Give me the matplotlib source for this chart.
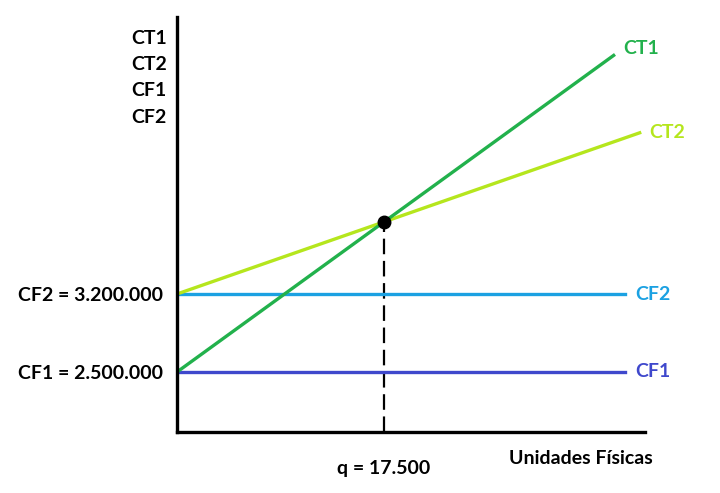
import numpy as np
import matplotlib.pyplot as plt
from matplotlib import transforms

plt.rcParams['font.family'] = ['Lato', 'DejaVu Sans']
plt.rcParams['font.weight'] = 'bold'

# costs
cf1 = 2500000
cf2 = 3200000
cv1 = 77      # variable cost per unit, CT1
cv2 = 37      # variable cost per unit, CT2
q_eq = 17500
x_end_ct1 = 36900
x_end_ct2 = 39100
x_end_cf = 37900
series_names = ['CT1', 'CT2', 'CF1', 'CF2']
colors = {'CT1': '#22b14c', 'CT2': '#b5e61d', 'CF1': '#3f48cc', 'CF2': '#1ba1e2'}
fs = 14

fig = plt.figure(figsize=(7.2, 4.93), dpi=100)
ax = fig.add_axes([177 / 720, 61 / 493, 468 / 720, 415 / 493])
ax.set_xlim(0, 39550)
ax.set_ylim(1961500, 5686000)

# fixed costs
ax.plot([0, x_end_cf], [cf2, cf2], color=colors['CF2'], lw=2.4)
ax.plot([0, x_end_cf], [cf1, cf1], color=colors['CF1'], lw=2.4)

# total costs
x1 = np.array([0, x_end_ct1])
x2 = np.array([0, x_end_ct2])
ax.plot(x2, cf2 + cv2 * x2, color=colors['CT2'], lw=2.4)
ax.plot(x1, cf1 + cv1 * x1, color=colors['CT1'], lw=2.4)

# equilibrium point
y_eq = cf1 + cv1 * q_eq
ax.plot([q_eq, q_eq], [ax.get_ylim()[0], y_eq], color='black', lw=1.6,
        ls=(0, (7, 3)), zorder=1)
ax.plot(q_eq, y_eq, 'o', color='black', ms=9, zorder=5)

# line end labels
ax.text(x_end_ct1 + 800, cf1 + cv1 * x_end_ct1 + 60000, 'CT1', color=colors['CT1'],
        fontsize=fs, va='center', ha='left')
ax.text(x_end_ct2 + 800, cf2 + cv2 * x_end_ct2, 'CT2', color=colors['CT2'],
        fontsize=fs, va='center', ha='left')
ax.text(x_end_cf + 800, cf2, 'CF2', color=colors['CF2'], fontsize=fs, va='center', ha='left')
ax.text(x_end_cf + 800, cf1, 'CF1', color=colors['CF1'], fontsize=fs, va='center', ha='left')

# axes look
for s in ['top', 'right']:
    ax.spines[s].set_visible(False)
for s in ['left', 'bottom']:
    ax.spines[s].set_linewidth(2.4)
    ax.spines[s].set_color('black')

ax.set_yticks([cf1, cf2])
ax.set_yticklabels(['CF1 = 2.500.000', 'CF2 = 3.200.000'], fontsize=fs)
ax.set_xticks([q_eq])
ax.set_xticklabels(['q = 17.500'], fontsize=fs)
ax.tick_params(axis='y', length=0, pad=10)
ax.tick_params(axis='x', length=0, pad=20)

ax.text(0.71, -0.063, 'Unidades Físicas', transform=ax.transAxes, fontsize=fs,
        ha='left', va='center')

# stacked labels at the top of the y axis
trans = transforms.blended_transform_factory(fig.transFigure, fig.transFigure)
for i, name in enumerate(series_names):
    ax.text(167 / 720, 1 - (38 + 26.5 * i) / 493, name, transform=trans,
            fontsize=fs, ha='right', va='center')

fig.savefig('out.png', dpi=100)
